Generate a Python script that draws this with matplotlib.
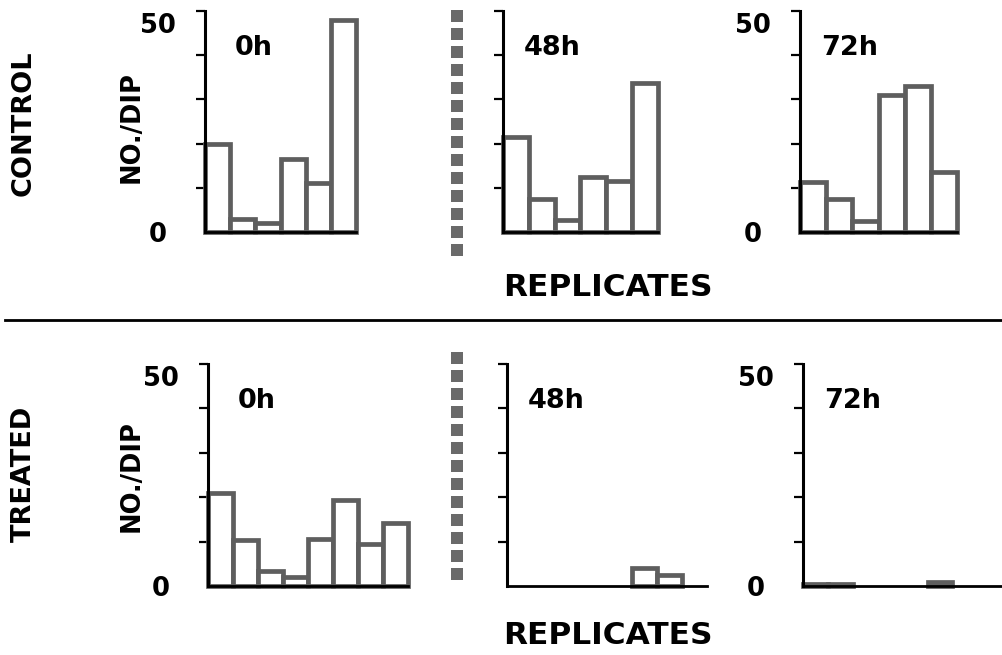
import matplotlib

matplotlib.use("Agg")
import matplotlib.pyplot as plt
from matplotlib.lines import Line2D

plt.rcParams["font.family"] = ["DejaVu Sans"]
plt.rcParams["font.weight"] = "bold"

W, H = 1002, 655

# Number of dividing cells per replicate
TIMES = ["0h", "48h", "72h"]
control_0h = [20, 3, 2, 16.5, 11, 48]
control_48h = [21.5, 7.5, 2.7, 12.5, 11.5, 33.7]
control_72h = [11.3, 7.5, 2.5, 31, 33, 13.5]
treated_0h = [21, 10.4, 3.4, 2, 10.6, 19.4, 9.5, 14.2]
treated_48h = [0, 0, 0, 0, 0, 4, 2.5, 0]
treated_72h = [0.5, 0.5, 0, 0, 0, 1, 0, 0]
Y_TICKS = [10, 20, 30, 40, 50]

# layout in pixels
ROWS = [
    {"label": "CONTROL", "data": [control_0h, control_48h, control_72h],
     "base": 232, "top": 11, "lefts": [205, 503, 800], "bar_px": [25.2, 25.8, 26.2],
     "label_y": 123, "ylab_y": 127, "rep_y": 288, "sep": (10, 256)},
    {"label": "TREATED", "data": [treated_0h, treated_48h, treated_72h],
     "base": 586, "top": 364, "lefts": [208, 507, 803], "bar_px": [25, 25, 24.9],
     "label_y": 474, "ylab_y": 476, "rep_y": 636, "sep": (352, 580)},
]
EDGE = "#5e5e5e"
PX = 0.72  # points per pixel at 100 dpi


def make_panel(fig, left, top, base, n, bar_px):
    return fig.add_axes([left / W, 1 - base / H, n * bar_px / W, (base - top) / H])


fig = plt.figure(figsize=(W / 100, H / 100), dpi=100)

for row in ROWS:
    for i, (values, left, bar_px) in enumerate(zip(row["data"], row["lefts"], row["bar_px"])):
        n = len(values)
        ax = make_panel(fig, left, row["top"], row["base"], n, bar_px)
        edges = [EDGE if v > 0 else "none" for v in values]
        ax.bar(range(n), values, width=1, align="edge", color="white",
               edgecolor=edges, linewidth=3.4, clip_on=False, zorder=2)
        ax.set_xlim(0, n)
        ax.set_ylim(0, 50)
        ax.set_xticks([])
        ax.set_yticks(Y_TICKS)
        ax.set_yticklabels([])
        ax.tick_params(axis="y", direction="out", length=6.5, width=1.6, color="black")
        for side in ["top", "right"]:
            ax.spines[side].set_visible(False)
        ax.spines["left"].set_linewidth(2.2)
        ax.spines["bottom"].set_linewidth(2.0)
        ax.spines["left"].set_zorder(3)
        ax.spines["bottom"].set_zorder(3)

        dx = 30 if i == 0 else 21
        ax.annotate(TIMES[i], xy=(0, 50), xycoords=("axes fraction", "data"),
                    xytext=(dx * PX, -44 * PX), textcoords="offset points",
                    ha="left", va="baseline", fontsize=19.5, fontweight="bold")
        if i != 1:
            ax.annotate("50", xy=(0, 50), xycoords=("axes fraction", "data"),
                        xytext=(-29 * PX, -22 * PX), textcoords="offset points",
                        ha="right", va="baseline", fontsize=18.5, fontweight="bold")
            ax.annotate("0", xy=(0, 0), xycoords=("axes fraction", "data"),
                        xytext=(-47 * PX, -10 * PX), textcoords="offset points",
                        ha="center", va="baseline", fontsize=18.5, fontweight="bold")

    fig.text(24 / W, 1 - row["label_y"] / H, row["label"], rotation=90,
             ha="center", va="center", fontsize=19.5, fontweight="bold")
    fig.text(132 / W, 1 - row["ylab_y"] / H, "NO./DIP", rotation=90,
             ha="center", va="center", fontsize=18.5, fontweight="bold")
    fig.text(608 / W, 1 - row["rep_y"] / H, "REPLICATES",
             ha="center", va="center", fontsize=22.5, fontweight="bold")

    y0, y1 = row["sep"]
    fig.add_artist(Line2D([457 / W, 457 / W], [1 - y0 / H, 1 - y1 / H],
                          color="#6a6a6a", linewidth=12 * PX,
                          linestyle=(0, (1, 0.5)), dash_capstyle="butt"))

# divider between control and treated rows
fig.add_artist(Line2D([5 / W, 1], [1 - 320 / H, 1 - 320 / H],
                      color="black", linewidth=2.8 * PX))

fig.savefig("out.png", dpi=100)
